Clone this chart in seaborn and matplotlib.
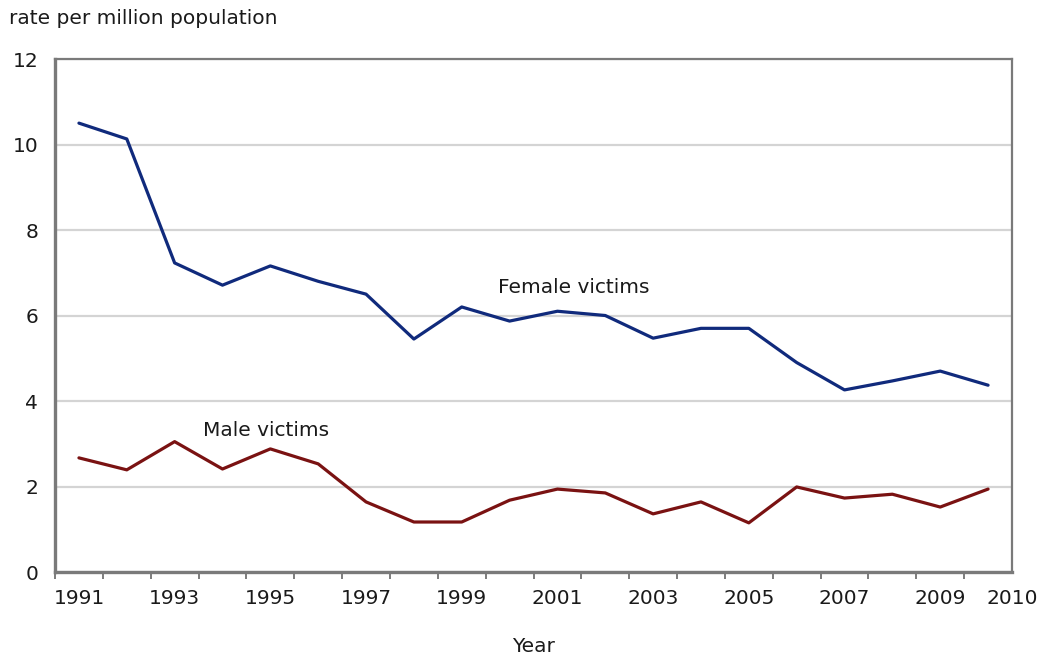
import pandas as pd
import matplotlib
matplotlib.use("Agg")
import matplotlib.pyplot as plt
import seaborn as sns

# rates per million population
years = list(range(1991, 2011))
female = [10.5, 10.13, 7.23, 6.71, 7.16, 6.8, 6.5, 5.45, 6.2, 5.87,
          6.1, 6.0, 5.47, 5.7, 5.7, 4.9, 4.26, 4.47, 4.7, 4.37]
male = [2.67, 2.39, 3.05, 2.41, 2.88, 2.53, 1.64, 1.17, 1.17, 1.68,
        1.94, 1.85, 1.36, 1.64, 1.15, 1.99, 1.73, 1.82, 1.52, 1.94]
tick_labels = ["1991", "1993", "1995", "1997", "1999", "2001",
               "2003", "2005", "2007", "2009", "2010"]

df = pd.DataFrame({
    "Year": years * 2,
    "rate": female + male,
    "victims": ["Female victims"] * len(years) + ["Male victims"] * len(years),
})

sns.set_style("white")
plt.rcParams["font.family"] = ["DejaVu Sans"]
fs = 14.5
txt = "#1a1a1a"

fig = plt.figure(figsize=(10.42, 6.6), dpi=100)
ax = fig.add_axes([0.0528, 0.1333, 0.9184, 0.7773])

pal = {"Female victims": "#102a7c", "Male victims": "#7a1212"}
sns.lineplot(data=df, x="Year", y="rate", hue="victims", palette=pal,
             linewidth=2.3, legend=False, ax=ax)

ax.set_xlim(1990.5, 2010.5)
ax.set_ylim(0, 12)
ax.set_yticks(range(0, 13, 2))
ax.yaxis.grid(True, color="#d4d4d4", linewidth=1.6)
ax.set_axisbelow(True)

# tick marks at year boundaries, labels under odd years (2010 at the edge)
ax.set_xticks([y - 0.5 for y in years] + [2010.5], minor=True)
label_pos = [int(t) for t in tick_labels[:-1]] + [2010.5]
ax.set_xticks(label_pos)
ax.set_xticklabels(tick_labels)
ax.tick_params(axis="x", which="major", length=0, pad=12, labelsize=fs)
ax.tick_params(axis="x", which="minor", length=5, width=1.2, color="#666666",
               direction="out", bottom=True)
ax.tick_params(axis="y", length=0, pad=12, labelsize=fs)
for lab in ax.get_xticklabels() + ax.get_yticklabels():
    lab.set_color(txt)

for s in ax.spines.values():
    s.set_color("#7a7a7a")
    s.set_linewidth(1.6)
ax.spines["left"].set_linewidth(2.4)
ax.spines["bottom"].set_linewidth(2.4)

ax.set_xlabel("Year", fontsize=fs, color=txt, labelpad=21)
ax.set_ylabel("")
fig.text(0.009, 0.972, "rate per million population", fontsize=fs,
         color=txt, va="center", ha="left")

ax.text(1999.75, 6.65, "Female victims", fontsize=fs, color=txt,
        va="center", ha="left")
ax.text(1993.6, 3.3, "Male victims", fontsize=fs, color=txt,
        va="center", ha="left")

fig.savefig("out.png", dpi=100)
